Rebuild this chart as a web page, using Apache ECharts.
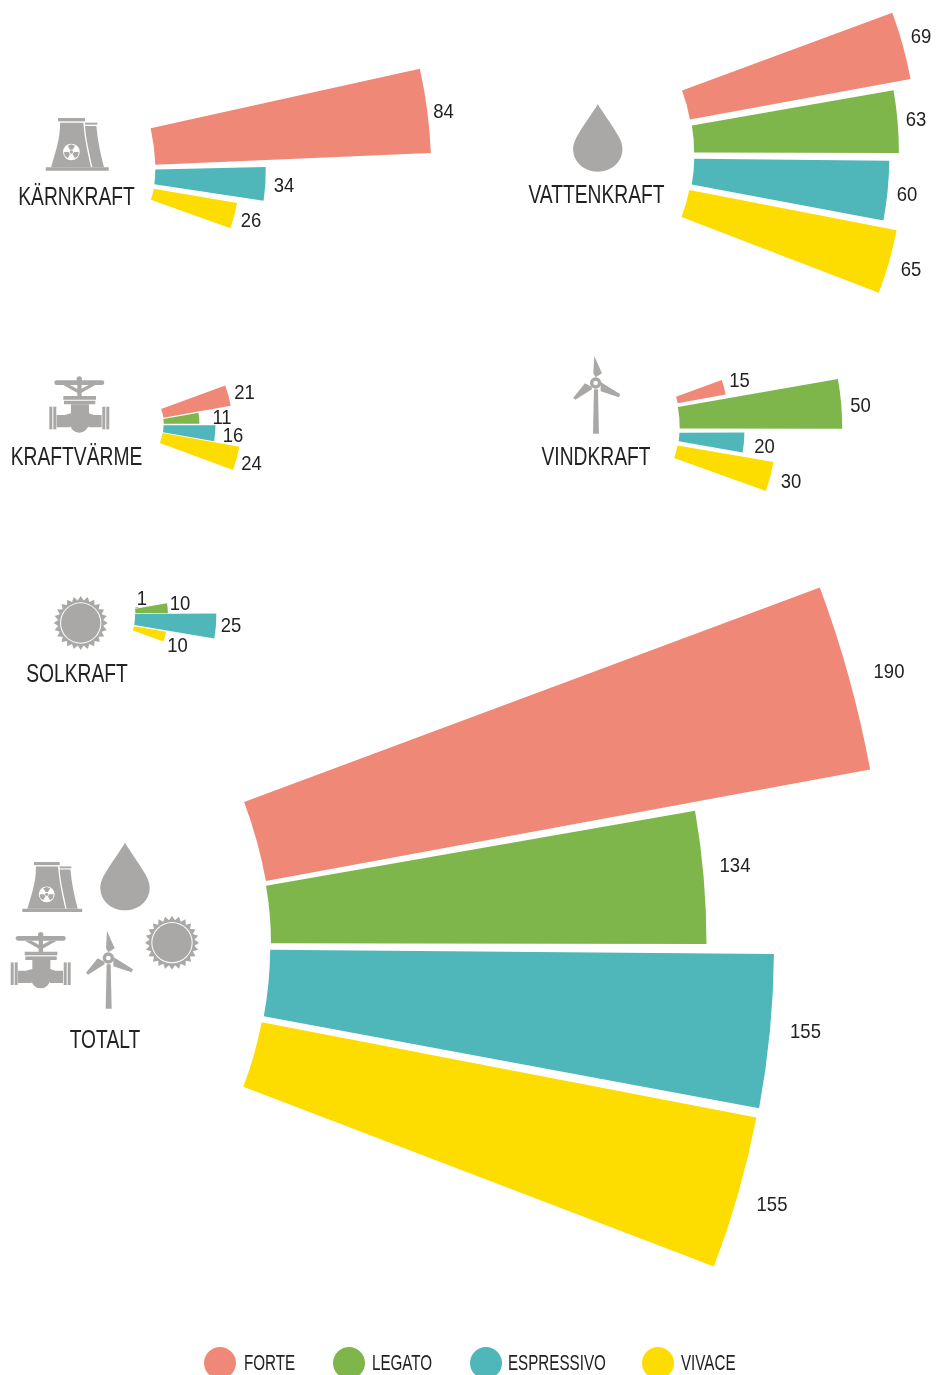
<!DOCTYPE html>
<html><head><meta charset="utf-8">
<style>html,body{margin:0;padding:0;background:#fff}#c{width:936px;height:1375px}</style>
<script src="https://cdn.jsdelivr.net/npm/echarts@6/dist/echarts.min.js"></script>
</head><body><div id="c"></div>
<script>
const categories=['KÄRNKRAFT','VATTENKRAFT','KRAFTVÄRME','VINDKRAFT','SOLKRAFT','TOTALT'];
const forte=[84,69,21,15,1,190];
const legato=[null,63,11,50,10,134];
const espressivo=[34,60,16,20,25,155];
const vivace=[26,65,24,30,10,155];
const seriesNames=['FORTE','LEGATO','ESPRESSIVO','VIVACE'];
const seriesValues=[forte,legato,espressivo,vivace];
const colors=['#EF8877','#7FB64C','#4FB7BA','#FDDC00'];

// page layout only: inner-edge midpoint, mid angle, label centre, optional size trim for each wedge
const place={
 FORTE:[[153,146.5,7.45,443.5,111,1.01],[686,105,15.35,921,36],[162.3,413.3,15,244.5,392],[676.8,400,15.1,739.5,380],[135,608,15,142,598],[255,841.5,15.45,889,671,.995]],
 LEGATO:[null,[693,139,4.9,916,119],[163.5,421.3,5,222,417],[678.8,417.8,4.9,860.5,405],[135.2,611,5,180,603],[268.5,914.5,4.9,735,865]],
 ESPRESSIVO:[[154.8,176.9,-3.65,284,185],[693,171.6,-5.6,907,194],[163.2,428.7,-5,233,435],[679,437,-4.9,764.5,446],[134.7,619.5,-4.6,231,625],[267,983,-5.5,805.5,1031]],
 VIVACE:[[152.3,194.2,-14.75,251,220],[685.4,203.5,-16,911,269],[161.2,438,-15.2,251.5,463],[675.8,451.7,-14.8,791,481],[133.5,628.3,-15,177.5,645],[252.5,1054.5,-15.9,772,1204]]
};
const namePlace=[[76.5,198],[596.5,196],[76.5,458],[596,458],[77,675],[105,1041]];
const legendPlace=[[204,244],[333,372],[470,508],[642,681]];
const SPAN=10, OUTER=57.3/10, INNER=OUTER-3.25;
const FONT='"Liberation Sans",sans-serif';
const GRAY='#A9A8A6', INK='#222222';

function squeezed(t,x,y,size,sx,align){return {type:'text',x,y,scaleX:sx,silent:true,
  style:{text:t,font:size+'px '+FONT,fill:INK,align:align||'center',verticalAlign:'middle'}};}

const polar=[],angleAxis=[],radiusAxis=[],series=[],valueTexts=[];
seriesNames.forEach((name,s)=>{
  seriesValues[s].forEach((v,i)=>{
    if(v==null) return;
    const [x,y,a,lx,ly,trim]=place[name][i];
    const k=trim||1;
    const rad=a*Math.PI/180, R=v*OUTER*k, r=v*INNER*k, d=r*Math.cos(SPAN/2*Math.PI/180);
    const cx=x-d*Math.cos(rad), cy=y+d*Math.sin(rad);
    const p=polar.length;
    polar.push({center:[cx,cy],radius:[r,R]});
    angleAxis.push({polarIndex:p,type:'category',data:[categories[i]],startAngle:a+SPAN/2,endAngle:a-SPAN/2,
      axisLine:{show:false},axisTick:{show:false},axisLabel:{show:false},splitLine:{show:false}});
    radiusAxis.push({polarIndex:p,type:'value',min:0,max:v,
      axisLine:{show:false},axisTick:{show:false},axisLabel:{show:false},splitLine:{show:false}});
    series.push({type:'bar',name,coordinateSystem:'polar',polarIndex:p,data:[v],barWidth:'100%',silent:true,
      itemStyle:{color:colors[s]}});
    valueTexts.push(squeezed(String(v),lx,ly+1,21,.88));
  });
});

// pictograms, drawn in a 3x design grid
let shapeId=0;
function g(children,x,y,k){return {type:'group',x,y,scaleX:k/3,scaleY:k/3,silent:true,children};}
function path(d,fill){const n='icon'+(shapeId++);echarts.graphic.registerShape(n,echarts.graphic.extendPath(d,{}));
  return {type:n,style:{fill:fill||GRAY}};}
function rect(x,y,w,h,r){return {type:'rect',shape:{x,y,width:w,height:h,r:r||0},style:{fill:GRAY}};}
function circ(x,y,r,fill){return {type:'circle',shape:{cx:x,cy:y,r},style:{fill:fill||GRAY}};}
function wedge(cx,cy,r0,r1,a){const s=Math.PI/6;const f=(t,r)=>(cx+r*Math.cos(t)).toFixed(1)+' '+(cy-r*Math.sin(t)).toFixed(1);
  return 'M'+f(a-s,r0)+'L'+f(a-s,r1)+'L'+f(a,r1+1)+'L'+f(a+s,r1)+'L'+f(a+s,r0)+'Z';}
function tower(){const c=[
  rect(0,148,189,10),rect(37,0,81,10),rect(118,14,37,6),
  path('M43 14L113 14C115 50 125 100 136 148L16 148C30 100 44 60 43 14Z'),
  path('M118 24L152 24C156 70 165 110 175 148L140 148C130 100 120 60 118 24Z'),
  circ(77,102,25,'#fff'),circ(77,102,5),
];[Math.PI/2,Math.PI*7/6,Math.PI*11/6].forEach(a=>c.push(path(wedge(77,102,8,22,a))));return c;}
function drop(){return [path('M0 0C-12 22-38 55-55 85C-68 105-74 120-74 135C-74 175-40 203 0 203C40 203 74 175 74 135C74 120 68 105 55 85C38 55 12 22 0 0Z')];}
function valve(){return [
  rect(15,13,150,14,7),circ(90,9,8),rect(84,8,13,60),
  path('M42 27L62 27L90 42L118 27L138 27L90 54Z'),
  rect(42,60,98,11),rect(44,74,94,11),
  path('M65 85L119 85L119 112L134 117L157 117L157 154L117 154L117 150L63 150L63 154L22 154L22 117L46 117L65 112Z'),
  circ(90,142,28),
  rect(0,92,9,68),rect(12,92,9,68),rect(159,92,9,68),rect(171,92,9,68)
];}
function turbine(){return [
  path('M63 0L86 52L67 64L60 52Z'),
  path('M0 125L35 82L55 92L56 100L6 131Z'),
  path('M82 78L141 115L137 124L82 106Z'),
  circ(67,81,17),circ(67,81,7,'#fff'),
  path('M62 100L74 100L77 233L59 233Z')
];}
function sun(){let d='';const n=24;for(let j=0;j<2*n;j++){const t=j*Math.PI/n,r=j%2?68:81;d+=(j?'L':'M')+(r*Math.cos(t)).toFixed(1)+' '+(r*Math.sin(t)).toFixed(1);}
  return [path(d+'Z'),circ(0,0,62,'#fff'),circ(0,0,59)];}

const names=categories.map((t,i)=>squeezed(t,namePlace[i][0],namePlace[i][1],25,.77));
const legendTexts=seriesNames.map((t,i)=>squeezed(t,legendPlace[i][1],1364,22,.69,'left'));
const graphic=[...names,...legendTexts,...valueTexts,
  g(tower(),45.7,118,1), g(drop(),597.8,104,1), g(valve(),49.3,376,1), g(turbine(),573.3,356,1), g(sun(),80.7,623,1),
  g(tower(),22.3,862,.95), g(drop(),125,842.7,1), g(valve(),10.7,931.7,1), g(turbine(),86,931,1), g(sun(),172,942.7,1)
];
const legend=seriesNames.map((n,i)=>({data:[n],left:legendPlace[i][0],top:1347,itemWidth:32,itemHeight:32,icon:'circle',
  selectedMode:false,padding:0,formatter:()=>' ',textStyle:{fontSize:1}}));

const chart=echarts.init(document.getElementById('c'),null,{renderer:'canvas'});
chart.setOption({animation:false,backgroundColor:'#fff',color:colors,polar,angleAxis,radiusAxis,series,legend,
  graphic:{elements:graphic}});
</script></body></html>
